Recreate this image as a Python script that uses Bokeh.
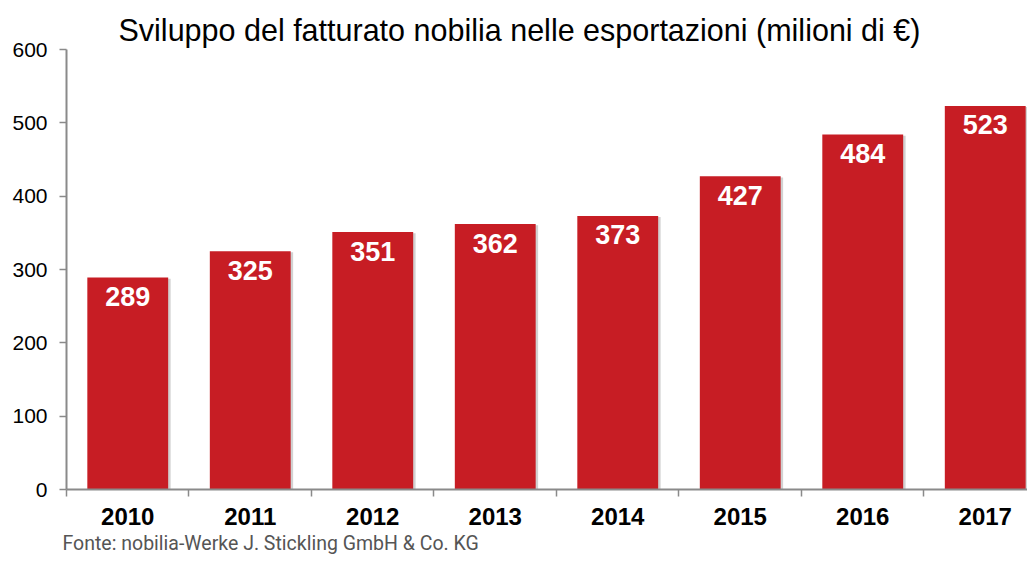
from bokeh.plotting import figure
from bokeh.models import ColumnDataSource, FixedTicker, Title, Range1d
from bokeh.core.properties import value
from bokeh.embed import file_html
from bokeh.resources import INLINE

years = ["2010", "2011", "2012", "2013", "2014", "2015", "2016", "2017"]
revenue = [289, 325, 351, 362, 373, 427, 484, 523]
y_ticks = [0, 100, 200, 300, 400, 500, 600]

centers = [i + 0.5 for i in range(len(years))]
src = ColumnDataSource(dict(
    x=centers, top=revenue, label=[str(v) for v in revenue],
    xs=[c + 0.02 for c in centers], tops=[v - 1.5 for v in revenue],
))

p = figure(width=1027, height=560, output_backend="svg", toolbar_location=None,
           x_range=Range1d(0, 7.845), y_range=Range1d(0, 600),
           min_border_left=66, min_border_right=0, min_border_top=49, min_border_bottom=71)
p.outline_line_color = None
p.grid.grid_line_color = None
p.background_fill_color = "white"

p.vbar(x="xs", top="tops", width=0.66, source=src, fill_color="#9a9a9a", fill_alpha=0.45, line_color=None)
p.vbar(x="x", top="top", width=0.66, source=src, fill_color="#C71D24", line_color=None)
p.text(x="x", y="top", text="label", source=src, text_color="white",
       text_font=value("Liberation Sans"), text_font_style="bold", text_font_size="27px",
       text_align="center", text_baseline="middle", y_offset=19)

axc = "#8a8a8a"
p.yaxis.ticker = FixedTicker(ticks=y_ticks)
p.yaxis.axis_line_color = axc
p.yaxis.axis_line_width = 2
p.yaxis.major_tick_line_color = axc
p.yaxis.major_tick_line_width = 1.5
p.yaxis.major_tick_in = 0
p.yaxis.major_tick_out = 7
p.yaxis.minor_tick_line_color = None
p.yaxis.major_label_text_font = "Liberation Sans"
p.yaxis.major_label_text_font_size = "21px"
p.yaxis.major_label_text_color = "black"
p.yaxis.major_label_standoff = 12

p.xaxis.ticker = FixedTicker(ticks=centers, minor_ticks=list(range(len(years) + 1)))
p.xaxis.major_label_overrides = {c: y for c, y in zip(centers, years)}
p.xaxis.axis_line_color = axc
p.xaxis.axis_line_width = 2
p.xaxis.major_tick_line_color = None
p.xaxis.minor_tick_line_color = axc
p.xaxis.minor_tick_line_width = 1.5
p.xaxis.minor_tick_in = 0
p.xaxis.minor_tick_out = 7
p.xaxis.major_label_text_font = "Liberation Sans"
p.xaxis.major_label_text_font_style = "bold"
p.xaxis.major_label_text_font_size = "24px"
p.xaxis.major_label_text_color = "black"
p.xaxis.major_label_standoff = 11

p.title.text = "Sviluppo del fatturato nobilia nelle esportazioni (milioni di €)"
p.title.text_font = "Liberation Sans"
p.title.text_font_style = "normal"
p.title.text_font_size = "30.5px"
p.title.text_color = "black"
p.title.align = "left"
p.title.offset = 52
p.title.standoff = 6

p.add_layout(Title(text="Fonte: nobilia-Werke J. Stickling GmbH & Co. KG",
                   text_font="Roboto", text_font_style="normal",
                   text_font_size="19.5px", text_color="#555555", align="left",
                   offset=-4, standoff=5), "below")

open("out.html", "w").write(file_html(p, INLINE))
